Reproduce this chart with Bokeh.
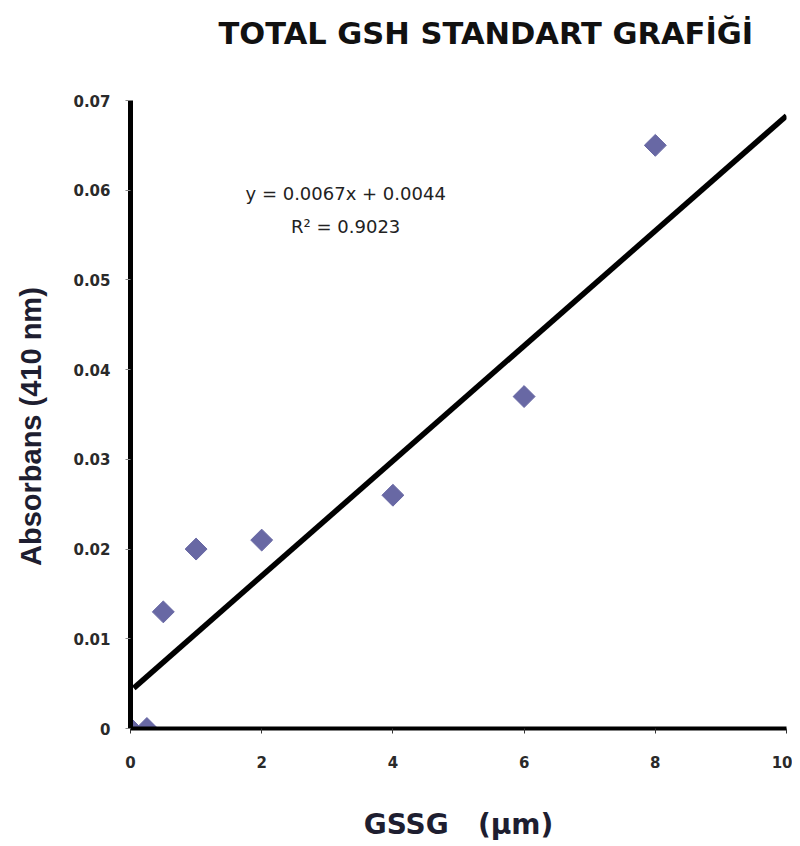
from bokeh.plotting import figure
from bokeh.models import Range1d, FixedTicker, Label, ColumnDataSource
from bokeh.embed import file_html
from bokeh.resources import INLINE
import math

# ---- data ----
gssg_um = [0, 0.25, 0.5, 1, 2, 4, 6, 8]
absorbance = [0, 0, 0.013, 0.02, 0.021, 0.026, 0.037, 0.065]

trend_x = [0.05, 10.0]
trend_y = [0.0045, 0.0683]

x_ticks = [0, 2, 4, 6, 8, 10]
x_tick_labels = ["0", "2", "4", "6", "8", "10"]
y_ticks = [0, 0.01, 0.02, 0.03, 0.04, 0.05, 0.06, 0.07]
y_tick_labels = ["0", "0.01", "0.02", "0.03", "0.04", "0.05", "0.06", "0.07"]

title_text = "TOTAL GSH STANDART GRAFİĞİ"
equation_text = "y = 0.0067x + 0.0044"
r2_text = "R² = 0.9023"
x_label = "GSSG\u00a0\u00a0\u00a0(µm)"
y_label = "Absorbans (410 nm)\u00a0\u00a0\u00a0"

p = figure(width=792, height=846, output_backend="svg", toolbar_location=None,
           x_range=Range1d(0, 10), y_range=Range1d(0, 0.07),
           min_border_left=130, min_border_right=6,
           min_border_top=100, min_border_bottom=118)
p.outline_line_color = None
p.xgrid.visible = False
p.ygrid.visible = False
p.background_fill_color = "white"
p.border_fill_color = "white"

# title (a second, empty line keeps it high above the frame)
p.title.text = title_text + "\n\u00a0"
p.title.align = "left"
p.title.offset = 88
p.title.vertical_align = "top"
p.title.text_font = "DejaVu Sans"
p.title.text_font_style = "bold"
p.title.text_font_size = "30.5px"
p.title.text_color = "#111111"
p.title.standoff = 26

# axes
p.xaxis.ticker = FixedTicker(ticks=x_ticks)
p.xaxis.major_label_overrides = {float(t): l for t, l in zip(x_ticks, x_tick_labels)}
p.yaxis.ticker = FixedTicker(ticks=y_ticks)
p.yaxis.major_label_overrides = {float(t): l for t, l in zip(y_ticks, y_tick_labels)}

for ax in (p.xaxis, p.yaxis):
    ax.minor_tick_line_color = None
    ax.major_tick_in = 0
    ax.major_tick_out = 5
    ax.major_label_text_font = "DejaVu Sans"
    ax.major_label_text_font_style = "bold"
    ax.major_label_text_font_size = "15px"
    ax.major_label_text_color = "#2a2a2a"
    ax.axis_line_color = "black"

p.yaxis.axis_line_width = 5
p.xaxis.axis_line_width = 4
p.yaxis.major_tick_line_color = "#888888"
p.xaxis.major_tick_line_color = "#333333"
p.yaxis.major_label_standoff = 15
p.xaxis.major_label_standoff = 22

p.yaxis.axis_label = y_label
p.yaxis.axis_label_text_font = "Liberation Sans"
p.yaxis.axis_label_text_font_style = "bold"
p.yaxis.axis_label_text_font_size = "29px"
p.yaxis.axis_label_text_color = "#1e1e30"
p.yaxis.axis_label_standoff = 23

p.xaxis.axis_label = x_label
p.xaxis.axis_label_text_font = "DejaVu Sans"
p.xaxis.axis_label_text_font_style = "bold"
p.xaxis.axis_label_text_font_size = "28px"
p.xaxis.axis_label_text_color = "#1e1e30"
p.xaxis.axis_label_standoff = 37

# trend line
p.line(trend_x, trend_y, line_color="black", line_width=5.5)

# data points (diamonds)
src = ColumnDataSource(dict(x=gssg_um, y=absorbance))
p.scatter("x", "y", source=src, marker="square", size=15.5, angle=math.pi / 4,
          fill_color="#6868a4", line_color="#6868a4")

# equation texts
p.add_layout(Label(x=3.28, y=0.0596, text=equation_text, text_align="center",
                   text_baseline="middle", text_font="DejaVu Sans",
                   text_font_size="18px", text_color="#222222"))
p.add_layout(Label(x=3.28, y=0.0560, text=r2_text, text_align="center",
                   text_baseline="middle", text_font="DejaVu Sans",
                   text_font_size="18px", text_color="#222222"))

open("out.html", "w").write(file_html(p, INLINE))
